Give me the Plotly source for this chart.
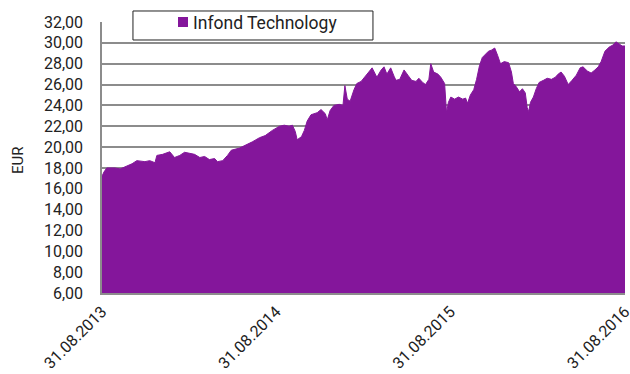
import plotly.graph_objects as go

# Fund unit price (EUR), Aug 2013 - Aug 2016
dates = [
    "2013-08-31", "2013-09-04", "2013-09-10", "2013-09-27", "2013-10-08", "2013-10-22",
    "2013-11-02", "2013-11-12", "2013-11-29", "2013-12-09", "2013-12-20", "2013-12-24",
    "2014-01-05", "2014-01-20", "2014-01-30", "2014-02-10", "2014-02-20", "2014-03-03",
    "2014-03-13", "2014-03-24", "2014-04-03", "2014-04-13", "2014-04-24", "2014-04-30",
    "2014-05-11", "2014-05-21", "2014-05-29", "2014-06-15", "2014-06-30", "2014-07-12",
    "2014-07-27", "2014-08-08", "2014-08-23", "2014-09-07", "2014-09-17", "2014-09-27",
    "2014-10-04", "2014-10-10", "2014-10-14", "2014-10-23", "2014-10-29", "2014-11-04",
    "2014-11-12", "2014-11-25", "2014-12-03", "2014-12-12", "2014-12-16", "2014-12-22",
    "2014-12-30", "2015-01-10", "2015-01-18", "2015-01-22", "2015-01-27", "2015-02-02",
    "2015-02-10", "2015-02-16", "2015-02-25", "2015-03-05", "2015-03-13", "2015-03-20",
    "2015-03-26", "2015-03-30", "2015-04-08", "2015-04-14", "2015-04-20", "2015-04-28",
    "2015-05-05", "2015-05-09", "2015-05-17", "2015-05-26", "2015-06-03", "2015-06-11",
    "2015-06-20", "2015-06-26", "2015-07-04", "2015-07-10", "2015-07-17", "2015-07-21",
    "2015-07-27", "2015-08-05", "2015-08-11", "2015-08-19", "2015-08-23", "2015-08-27",
    "2015-09-01", "2015-09-09", "2015-09-17", "2015-09-26", "2015-10-02", "2015-10-06",
    "2015-10-12", "2015-10-19", "2015-10-25", "2015-10-31", "2015-11-06", "2015-11-13",
    "2015-11-19", "2015-11-25", "2015-12-02", "2015-12-08", "2015-12-14", "2015-12-22",
    "2015-12-31", "2016-01-06", "2016-01-10", "2016-01-16", "2016-01-23", "2016-01-29",
    "2016-02-04", "2016-02-08", "2016-02-11", "2016-02-15", "2016-02-21", "2016-02-27",
    "2016-03-04", "2016-03-13", "2016-03-21", "2016-03-30", "2016-04-07", "2016-04-13",
    "2016-04-19", "2016-04-26", "2016-05-04", "2016-05-12", "2016-05-21", "2016-05-29",
    "2016-06-04", "2016-06-13", "2016-06-21", "2016-06-29", "2016-07-06", "2016-07-12",
    "2016-07-20", "2016-07-29", "2016-08-06", "2016-08-12", "2016-08-18", "2016-08-25",
    "2016-08-31",
]
prices = [
    17.2, 17.6, 18.0, 18.0, 17.9, 18.2,
    18.4, 18.7, 18.6, 18.7, 18.5, 19.2,
    19.3, 19.55, 19.0, 19.2, 19.5, 19.4,
    19.3, 19.0, 19.1, 18.8, 18.9, 18.6,
    18.7, 19.2, 19.7, 19.9, 20.2, 20.5,
    20.9, 21.1, 21.6, 22.0, 22.1, 22.0,
    22.1, 21.5, 20.7, 21.0, 21.6, 22.5,
    23.1, 23.3, 23.6, 23.2, 22.6, 23.5,
    24.0, 24.1, 24.0, 25.9, 24.6, 24.4,
    25.5, 26.1, 26.3, 26.8, 27.2, 27.6,
    27.0, 26.7, 27.4, 27.7, 27.0, 27.6,
    26.8, 26.4, 26.5, 27.4, 26.9, 26.4,
    26.3, 26.6, 26.2, 26.0, 26.5, 28.0,
    27.2, 27.0, 26.7, 26.1, 23.3, 24.3,
    24.8, 24.6, 24.8, 24.6, 24.7, 24.2,
    25.0, 25.5, 26.5, 27.8, 28.6, 28.9,
    29.2, 29.3, 29.5, 28.8, 28.0, 28.2,
    28.1, 27.2, 26.1, 25.8, 25.3, 25.6,
    25.2, 23.8, 23.4, 24.3, 24.8, 25.6,
    26.2, 26.4, 26.6, 26.5, 26.7, 27.0,
    27.2, 26.8, 26.0, 26.4, 26.9, 27.6,
    27.7, 27.3, 27.1, 27.4, 27.7, 28.2,
    29.2, 29.6, 29.8, 30.1, 29.9, 29.7,
    29.7,
]

series_name = "Infond Technology"
x_ticks = ["2013-08-31", "2014-08-31", "2015-08-31", "2016-08-31"]
x_tick_labels = ["31.08.2013", "31.08.2014", "31.08.2015", "31.08.2016"]
y_ticks = list(range(6, 33, 2))
y_tick_labels = [f"{v},00" for v in y_ticks]

PURPLE = "#84169B"
GRID = "#8c8c8c"
TEXT = "#222222"
FONT = "Roboto"

fig = go.Figure()
fig.add_trace(go.Scatter(
    x=dates, y=prices, mode="lines", fill="tozeroy",
    fillcolor=PURPLE, line=dict(color=PURPLE, width=1),
    name=series_name, showlegend=False, hoverinfo="x+y",
))

fig.update_layout(
    width=630, height=374,
    margin=dict(l=102, r=5, t=22, b=81),
    paper_bgcolor="white", plot_bgcolor="white",
    font=dict(family=FONT, size=16, color=TEXT),
    xaxis=dict(
        type="date", range=[x_ticks[0], x_ticks[-1]],
        tickmode="array", tickvals=x_ticks, ticktext=x_tick_labels,
        tickangle=-45, showgrid=False, zeroline=False,
        showline=True, linecolor=GRID, linewidth=2,
        ticks="", ticklabelstandoff=1, ticklabeloverflow="allow",
        automargin=False,
        tickfont=dict(family=FONT, size=16, color=TEXT),
    ),
    yaxis=dict(
        range=[6, 32], tickmode="array", tickvals=y_ticks, ticktext=y_tick_labels,
        showgrid=True, gridcolor=GRID, gridwidth=1.5, zeroline=False,
        showline=True, linecolor=GRID, linewidth=1.5,
        ticks="", ticklabelstandoff=14, automargin=False,
        tickfont=dict(family=FONT, size=16, color=TEXT),
    ),
)

# Legend box drawn as a bordered frame with a colour swatch and the series name
fig.add_shape(type="rect", xref="paper", yref="paper",
              x0=0.0592, x1=0.5181, y0=0.9336, y1=1.0406,
              line=dict(color=TEXT, width=1), fillcolor="white", layer="above")
fig.add_shape(type="rect", xref="paper", yref="paper",
              x0=0.1453, x1=0.1644, y0=0.9816, y1=1.0185,
              line=dict(width=0), fillcolor=PURPLE, layer="above")
fig.add_annotation(text=series_name, xref="paper", yref="paper",
                   x=0.1701, y=0.9965, xanchor="left", yanchor="middle",
                   showarrow=False, font=dict(family=FONT, size=17.5, color=TEXT))

# Vertical unit label
fig.add_annotation(text="EUR", xref="paper", yref="paper",
                   x=-0.161, y=0.49, textangle=-90, showarrow=False,
                   xanchor="center", yanchor="middle",
                   font=dict(family=FONT, size=15, color=TEXT))

fig.write_html("out.html")
